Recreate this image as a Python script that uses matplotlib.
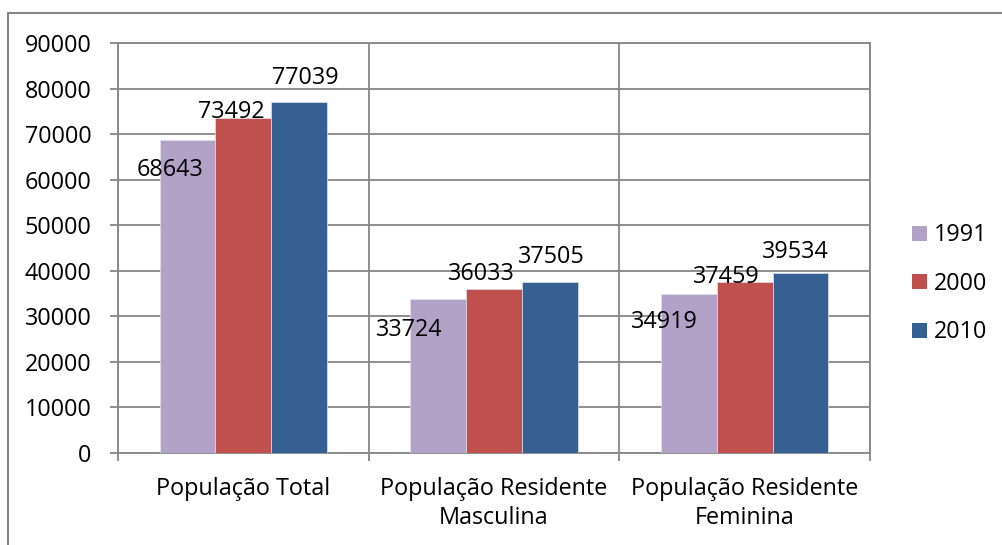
import matplotlib
matplotlib.use("Agg")
import matplotlib.pyplot as plt
from matplotlib.patches import Rectangle, Patch
import numpy as np

categories = ["População Total", "População Residente\nMasculina", "População Residente\nFeminina"]
series_names = ["1991", "2000", "2010"]
values_1991 = [68643, 33724, 34919]
values_2000 = [73492, 36033, 37459]
values_2010 = [77039, 37505, 39534]
y_ticks = [0, 10000, 20000, 30000, 40000, 50000, 60000, 70000, 80000, 90000]

colors = ["#B3A2C7", "#C0504D", "#376092"]
# manual label offsets (pixels) relative to bar top centre, as in the reference
label_offsets = [
    [(-18, -30), (-29, -31), (-25, -28)],
    [(-12, 6), (-13, 15), (-18, 5)],
    [(6, 24), (2, 25), (-5, 21)],
]

plt.rcParams['font.family'] = ['Open Sans', 'DejaVu Sans']
FS = 16.8

W, H = 1002, 545
fig = plt.figure(figsize=(W / 100, H / 100), dpi=100)
ax = fig.add_axes([118 / W, 1 - 453 / H, (870 - 118) / W, (453 - 43) / H])

# outer chart border (left/top visible)
fig.patches.append(Rectangle((8 / W, -0.1), 1.2, (1 - 13 / H) + 0.1, transform=fig.transFigure,
                             fill=False, edgecolor="#868686", linewidth=1.5))

x = np.arange(len(categories))
bw = 1 / 4.5
all_vals = [values_1991, values_2000, values_2010]
for i, (name, vals) in enumerate(zip(series_names, all_vals)):
    pos = x + (i - 1) * bw
    ax.bar(pos, vals, width=bw, color=colors[i], edgecolor="#dde3ee", linewidth=0.5,
           label=name, zorder=3)
    for j, (p, v) in enumerate(zip(pos, vals)):
        dx, dy = label_offsets[i][j]
        ax.annotate(str(v), (p, v), xytext=(dx, dy), textcoords="offset pixels",
                    ha="center", va="center", fontsize=FS, color="black", zorder=5)

ax.set_xlim(-0.5, len(categories) - 0.5)
ax.set_ylim(0, 90000)
ax.set_yticks(y_ticks)
ax.set_yticklabels([str(t) for t in y_ticks], fontsize=FS)
ax.yaxis.grid(True, color="#868686", linewidth=1.3, zorder=0)

# vertical gridlines at category boundaries
ax.set_xticks(np.arange(-0.5, len(categories), 1.0))
ax.set_xticklabels([])
ax.xaxis.grid(True, color="#868686", linewidth=1.3, zorder=0)
ax.set_xticks(x, minor=True)
ax.set_xticklabels(categories, minor=True, fontsize=FS, linespacing=1.3)
ax.tick_params(axis="x", which="minor", length=0, pad=17)
ax.tick_params(axis="x", which="major", length=6, width=1.3, color="#868686")
ax.tick_params(axis="y", length=6, width=1.3, color="#868686", pad=13)
ax.set_axisbelow(True)

for s in ax.spines.values():
    s.set_color("#868686")
    s.set_linewidth(1.3)

handles = [Patch(facecolor=c, edgecolor="none") for c in colors]
fig.legend(handles, series_names, loc="upper left", bbox_to_anchor=(903 / W, 1 - 214 / H),
           frameon=False, fontsize=FS, handlelength=0.62, handleheight=0.62,
           handletextpad=0.3, labelspacing=1.05, borderaxespad=0)

fig.savefig("out.png", dpi=100)
